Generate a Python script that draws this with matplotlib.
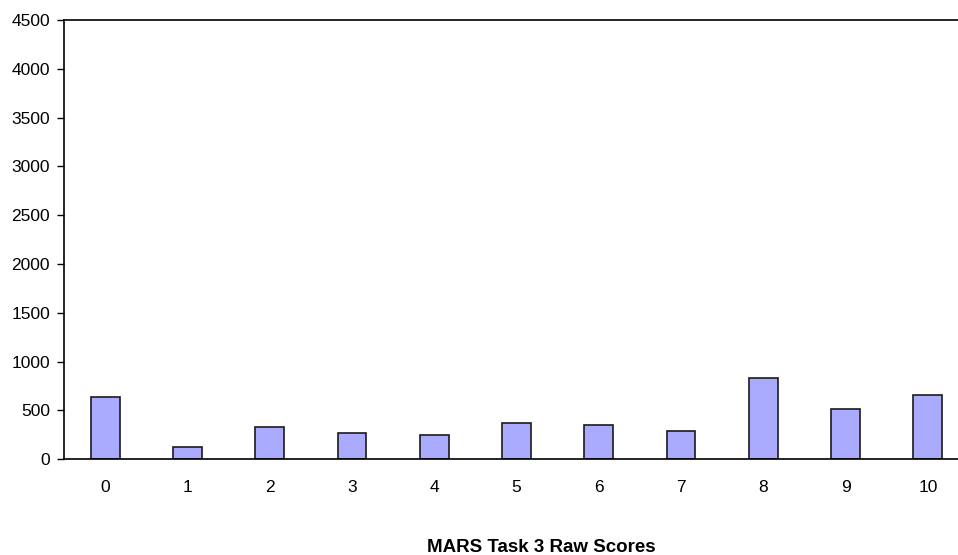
import matplotlib
matplotlib.use("Agg")
import matplotlib.pyplot as plt

# ================================
# DATA
# ================================
scores = ["0", "1", "2", "3", "4", "5", "6", "7", "8", "9", "10"]
counts = [641, 125, 335, 270, 245, 370, 350, 285, 830, 515, 655]

plt.rcParams["font.family"] = ["Liberation Sans", "DejaVu Sans"]

# ================================
# FIGURE
# ================================
fig = plt.figure(figsize=(9.58, 5.55), dpi=100)
W, H = 958, 555
left, right, top, bottom = 64, 969, 20, 459.3
ax = fig.add_axes([left / W, (H - bottom) / H, (right - left) / W, (bottom - top) / H])

x = list(range(len(scores)))
ax.bar(x, counts, width=0.35, color="#aaaaff", edgecolor="#1a1a1a", linewidth=1.2)

ax.set_xlim(-0.5, len(scores) - 0.5)
ax.set_ylim(0, 4500)
ax.set_yticks(range(0, 4501, 500))
ax.set_xticks(x)
ax.set_xticklabels(scores)

ax.tick_params(axis="x", length=0, pad=15, labelsize=12.5)
ax.tick_params(axis="y", length=5, width=1, pad=5, labelsize=12.5, direction="out")

for side in ["left", "bottom", "top"]:
    ax.spines[side].set_linewidth(1.2)
    ax.spines[side].set_color("black")
ax.spines["right"].set_visible(False)

# axis title sits at the bottom of the figure
fig.text(541 / W, 1 - 547 / H, "MARS Task 3 Raw Scores", fontsize=13.5,
         fontweight="bold", ha="center", va="center")

fig.savefig("out.png", dpi=100)
